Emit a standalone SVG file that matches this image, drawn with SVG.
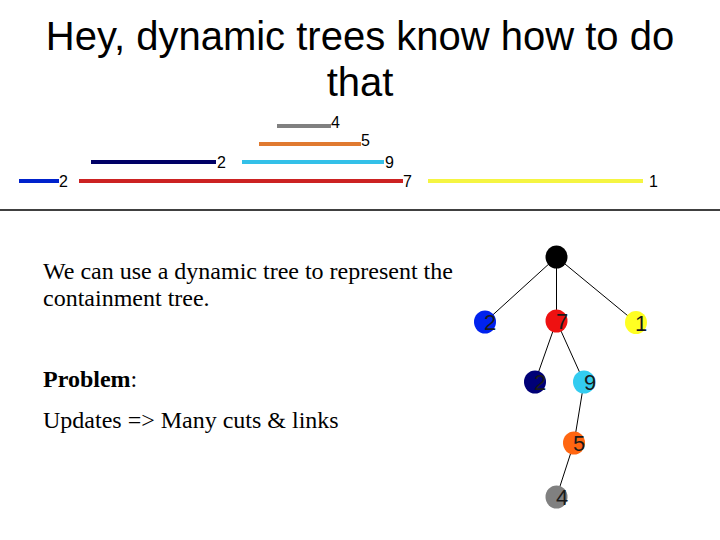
<svg xmlns="http://www.w3.org/2000/svg" width="720" height="540" viewBox="0 0 720 540">
<style>
.title{font-family:"Liberation Sans",Arial,sans-serif;font-size:40px;fill:#000;text-anchor:middle}
.seg{stroke-width:4;fill:none}
.sl{font-family:"Liberation Sans",Arial,sans-serif;font-size:16px;fill:#000}
.body{font-family:"Liberation Serif","Times New Roman",serif;font-size:24px;fill:#000}
.edge{stroke:#000;stroke-width:1;fill:none}
.nl{font-family:"Liberation Sans",Arial,sans-serif;font-size:22px;fill:#1a1a1a;text-anchor:middle}
</style>
<rect width="720" height="540" fill="#fff"/>
<g id="title">
<text class="title" x="360" y="50">Hey, dynamic trees know how to do</text>
<text class="title" x="360" y="96">that</text>
</g>
<g id="segments">
<line class="seg" x1="277" y1="126" x2="331" y2="126" stroke="#808080"/>
<text class="sl" x="331" y="128">4</text>
<line class="seg" x1="259" y1="144" x2="361" y2="144" stroke="#E07A30"/>
<text class="sl" x="361" y="146">5</text>
<line class="seg" x1="91" y1="162" x2="216" y2="162" stroke="#000066"/>
<text class="sl" x="217" y="168">2</text>
<line class="seg" x1="242" y1="162" x2="384" y2="162" stroke="#33C0E8"/>
<text class="sl" x="385" y="168">9</text>
<line class="seg" x1="19" y1="181" x2="59" y2="181" stroke="#0022CC"/>
<text class="sl" x="59" y="187">2</text>
<line class="seg" x1="79" y1="181" x2="403" y2="181" stroke="#CC2222"/>
<text class="sl" x="403" y="187">7</text>
<line class="seg" x1="428" y1="181" x2="643" y2="181" stroke="#F5F542"/>
<text class="sl" x="649" y="187">1</text>
<line x1="0" y1="210" x2="720" y2="210" stroke="#000" stroke-width="1.5"/>
</g>
<g id="text">
<text class="body" x="43" y="279">We can use a dynamic tree to represent the</text>
<text class="body" x="43" y="306">containment tree.</text>
<text class="body" x="43" y="387"><tspan font-weight="bold">Problem</tspan>:</text>
<text class="body" x="43" y="428">Updates =&gt; Many cuts &amp; links</text>
</g>
<g id="connectors">
<line class="edge" x1="556.5" y1="257" x2="485" y2="322"/>
<line class="edge" x1="556.5" y1="257" x2="556.5" y2="321"/>
<line class="edge" x1="556.5" y1="257" x2="636" y2="322.5"/>
<line class="edge" x1="556.5" y1="321" x2="535" y2="382"/>
<line class="edge" x1="556.5" y1="321" x2="584" y2="382"/>
<line class="edge" x1="584" y1="382" x2="574" y2="443"/>
<line class="edge" x1="574" y1="443" x2="556.5" y2="497"/>
</g>
<g id="n-root"><ellipse cx="556.5" cy="257" rx="11" ry="11.5" fill="#000"/></g>
<g id="n-2a"><ellipse cx="485" cy="322" rx="11" ry="11.5" fill="#0022EE"/><text class="nl" x="490" y="330">2</text></g>
<g id="n-7"><ellipse cx="556.5" cy="321" rx="11" ry="11.5" fill="#EE1111"/><text class="nl" x="562" y="329">7</text></g>
<g id="n-1"><ellipse cx="636" cy="322.5" rx="11" ry="11.5" fill="#FFFF22"/><text class="nl" x="641" y="331">1</text></g>
<g id="n-2b"><ellipse cx="535" cy="382" rx="11" ry="11.5" fill="#000077"/><text class="nl" x="540" y="390">2</text></g>
<g id="n-9"><ellipse cx="584" cy="382" rx="11" ry="11.5" fill="#33CCF0"/><text class="nl" x="590" y="390" fill="#114466">9</text></g>
<g id="n-5"><ellipse cx="574" cy="443" rx="11" ry="11.5" fill="#FF6611"/><text class="nl" x="579" y="451">5</text></g>
<g id="n-4"><ellipse cx="556.5" cy="497" rx="11" ry="11.5" fill="#808080"/><text class="nl" x="562" y="505">4</text></g>
</svg>
